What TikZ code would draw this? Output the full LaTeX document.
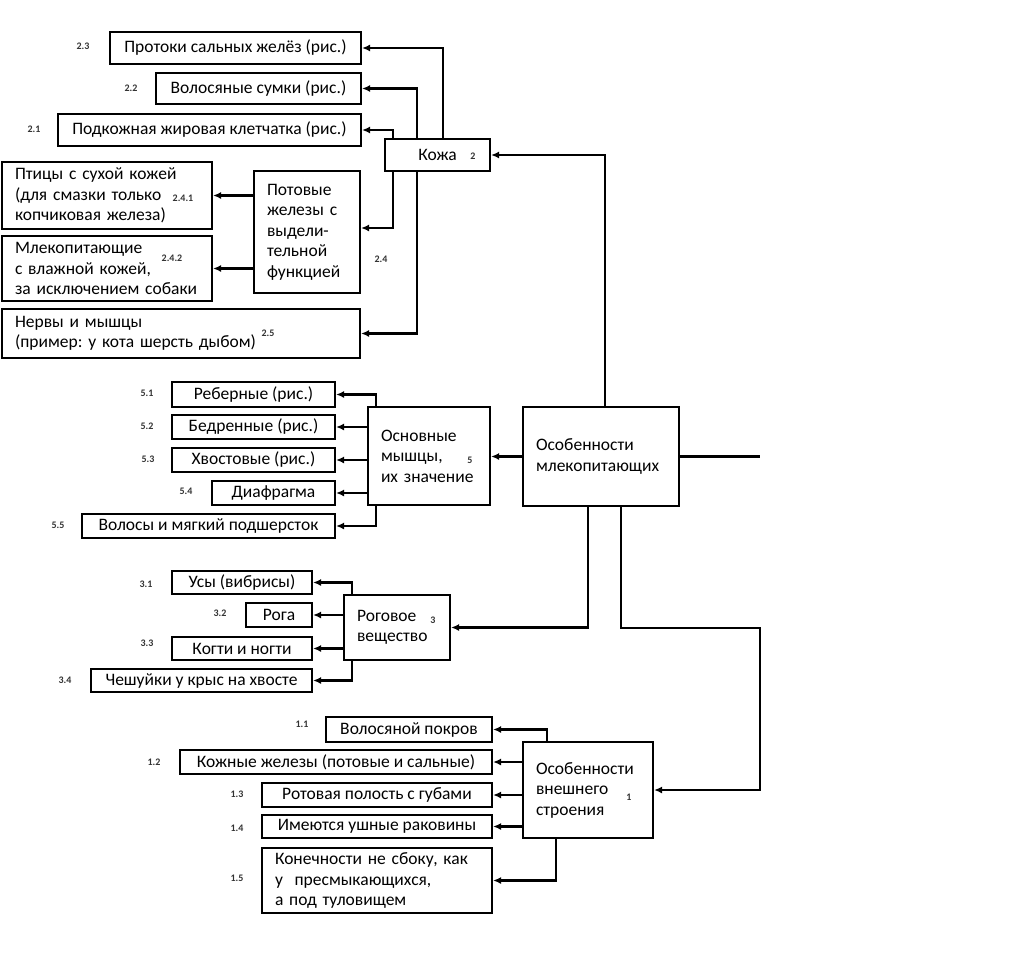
\documentclass[tikz,border=0pt]{standalone}
\usepackage{fontspec}
\setmainfont{Carlito}
\usetikzlibrary{arrows.meta}
\frenchspacing
\newcommand\mainf{\fontsize{17.5}{20.5}\selectfont}
\newcommand\numf{\fontsize{10}{10}\selectfont\bfseries}
\tikzset{
  box/.style={draw, line width=2.1pt, inner sep=0pt, font=\mainf, align=center},
  mbox/.style={draw, line width=2.1pt, inner xsep=13pt, inner ysep=0pt, font=\mainf, align=left},
  num/.style={font=\numf, inner sep=0pt, text=black!80},
  arr/.style={line width=2.1pt, -{Latex[length=8pt,width=7pt]}},
  ln/.style={line width=2.1pt}
}
\begin{document}
\begin{tikzpicture}[x=1pt,y=-1pt]
\useasboundingbox (0,0) rectangle (1024,979);
% --- Кожа group
\node[box, minimum width=251, minimum height=32] (protoki) at (235.5,48) {Протоки сальных желёз (рис.)};
\node[box, minimum width=205, minimum height=31] (volos) at (258.5,88.5) {Волосяные сумки (рис.)};
\node[box, minimum width=303, minimum height=32] (podkozh) at (209.5,130) {Подкожная жировая клетчатка (рис.)};
\node[box, minimum width=105, minimum height=32] (kozha) at (437.5,155) {Кожа};
\node[mbox, text width=184, minimum height=67] (ptitsy) at (107,195.5) {Птицы с сухой кожей\\(для смазки только\\копчиковая железа)};
\node[mbox, text width=80, minimum height=122] (potov) at (307,232) {Потовые\\железы с\\выдели-\\тельной\\функцией};
\node[mbox, text width=184, minimum height=65] (mlek) at (107,268.5) {Млекопитающие\\с влажной кожей,\\за исключением собаки};
\node[mbox, text width=332, minimum height=49] (nervy) at (181,333.5) {Нервы и мышцы\\(пример: у кота шерсть дыбом)};
% --- Мышцы group
\node[box, minimum width=163, minimum height=25] (reber) at (253.5,394.5) {Реберные (рис.)};
\node[box, minimum width=163, minimum height=24] (bedr) at (253.5,427) {Бедренные (рис.)};
\node[box, minimum width=163, minimum height=24] (hvost) at (253.5,460) {Хвостовые (рис.)};
\node[box, minimum width=123, minimum height=24] (diafr) at (273.5,493) {Диафрагма};
\node[box, minimum width=253, minimum height=24] (volosy) at (208.5,526) {Волосы и мягкий подшерсток};
\node[mbox, text width=96, minimum height=98] (osnov) at (429,456) {Основные\\мышцы,\\их значение};
\node[mbox, text width=130, minimum height=99] (osob) at (601,456.5) {Особенности\\млекопитающих};
% --- Роговое group
\node[box, minimum width=140, minimum height=23] (usy) at (242,582.5) {Усы (вибрисы)};
\node[box, minimum width=66, minimum height=24] (roga) at (279,615) {Рога};
\node[box, minimum width=140, minimum height=23] (kogti) at (242,648.5) {Когти и ногти};
\node[box, minimum width=221, minimum height=23] (cheshu) at (201.5,680.5) {Чешуйки у крыс на хвосте};
\node[mbox, text width=80, minimum height=65] (rog) at (397,627.5) {Роговое\\вещество};
% --- Внешнее строение group
\node[box, minimum width=166, minimum height=25] (volpokr) at (409,729.5) {Волосяной покров};
\node[box, minimum width=312, minimum height=24] (kozhzh) at (336,762) {Кожные железы (потовые и сальные)};
\node[box, minimum width=230, minimum height=24] (rotov) at (377,795) {Ротовая полость с губами};
\node[box, minimum width=230, minimum height=23] (ushn) at (377,826.5) {Имеются ушные раковины};
\node[mbox, text width=204, minimum height=65] (konech) at (377,880.5) {Конечности не сбоку, как\\у~ пресмыкающихся,\\а под туловищем};
\node[mbox, text width=104, minimum height=96] (vnesh) at (588,790) {Особенности\\внешнего\\строения};
% --- numbers
\node[num] (n23) at (83,46) {2.3};
\node[num] (n22) at (131,88) {2.2};
\node[num] (n21) at (34,129) {2.1};
\node[num] (n2) at (473,156) {2};
\node[num] (n241) at (183,198) {2.4.1};
\node[num] (n242) at (172,258) {2.4.2};
\node[num] (n24) at (381,259) {2.4};
\node[num] (n25) at (268,333) {2.5};
\node[num] (n51) at (147,393) {5.1};
\node[num] (n52) at (147,426) {5.2};
\node[num] (n53) at (148,459) {5.3};
\node[num] (n54) at (186,491) {5.4};
\node[num] (n55) at (58,525) {5.5};
\node[num] (n5) at (470,460) {5};
\node[num] (n31) at (146,584) {3.1};
\node[num] (n32) at (220,613) {3.2};
\node[num] (n33) at (147,643) {3.3};
\node[num] (n34) at (65,680) {3.4};
\node[num] (n3) at (433,620) {3};
\node[num] (n11) at (302,724) {1.1};
\node[num] (n12) at (154,762) {1.2};
\node[num] (n13) at (237,794) {1.3};
\node[num] (n14) at (237,828) {1.4};
\node[num] (n15) at (237,878) {1.5};
\node[num] (n1) at (629,797) {1};
% --- connectors: Кожа
\draw[arr] ([xshift=5.5pt]kozha.north) |- (protoki.east);
\draw[arr] ([xshift=-20.5pt]kozha.north) |- (volos.east);
\draw[arr] ([xshift=-44.5pt]kozha.north) |- (podkozh.east);
\draw[arr] ([xshift=-44.5pt]kozha.south) |- ([yshift=4pt]potov.east);
\draw[arr] ([xshift=-20.5pt]kozha.south) |- (nervy.east);
\draw[arr] (potov.west |- ptitsy.east) -- (ptitsy.east);
\draw[arr] (potov.west |- mlek.east) -- (mlek.east);
% --- main
\coordinate (rend) at (760,456.5);
\coordinate (bend) at (760,628);
\draw[arr] ([xshift=4pt]osob.north) |- (kozha.east);
\draw[arr] (osob.west) -- (osob.west -| osnov.east);
\draw[ln] (osob.east) -- (rend);
\draw[arr] ([xshift=-13pt]osob.south) |- (rog.east);
\draw[arr] ([xshift=20pt]osob.south) |- (bend) |- (vnesh.east);
% --- Мышцы
\draw[arr] ([xshift=-53pt]osnov.north) |- (reber.east);
\draw[arr] (osnov.west |- bedr.east) -- (bedr.east);
\draw[arr] (osnov.west |- hvost.east) -- (hvost.east);
\draw[arr] (osnov.west |- diafr.east) -- (diafr.east);
\draw[arr] ([xshift=-53pt]osnov.south) |- (volosy.east);
% --- Роговое
\draw[arr] ([xshift=-45pt]rog.north) |- (usy.east);
\draw[arr] (rog.west |- roga.east) -- (roga.east);
\draw[arr] (rog.west |- kogti.east) -- (kogti.east);
\draw[arr] ([xshift=-45pt]rog.south) |- (cheshu.east);
% --- Внешнее
\draw[arr] ([xshift=-41pt]vnesh.north) |- (volpokr.east);
\draw[arr] (vnesh.west |- kozhzh.east) -- (kozhzh.east);
\draw[arr] (vnesh.west |- rotov.east) -- (rotov.east);
\draw[arr] (vnesh.west |- ushn.east) -- (ushn.east);
\draw[arr] ([xshift=-32pt]vnesh.south) |- (konech.east);
\end{tikzpicture}
\end{document}
